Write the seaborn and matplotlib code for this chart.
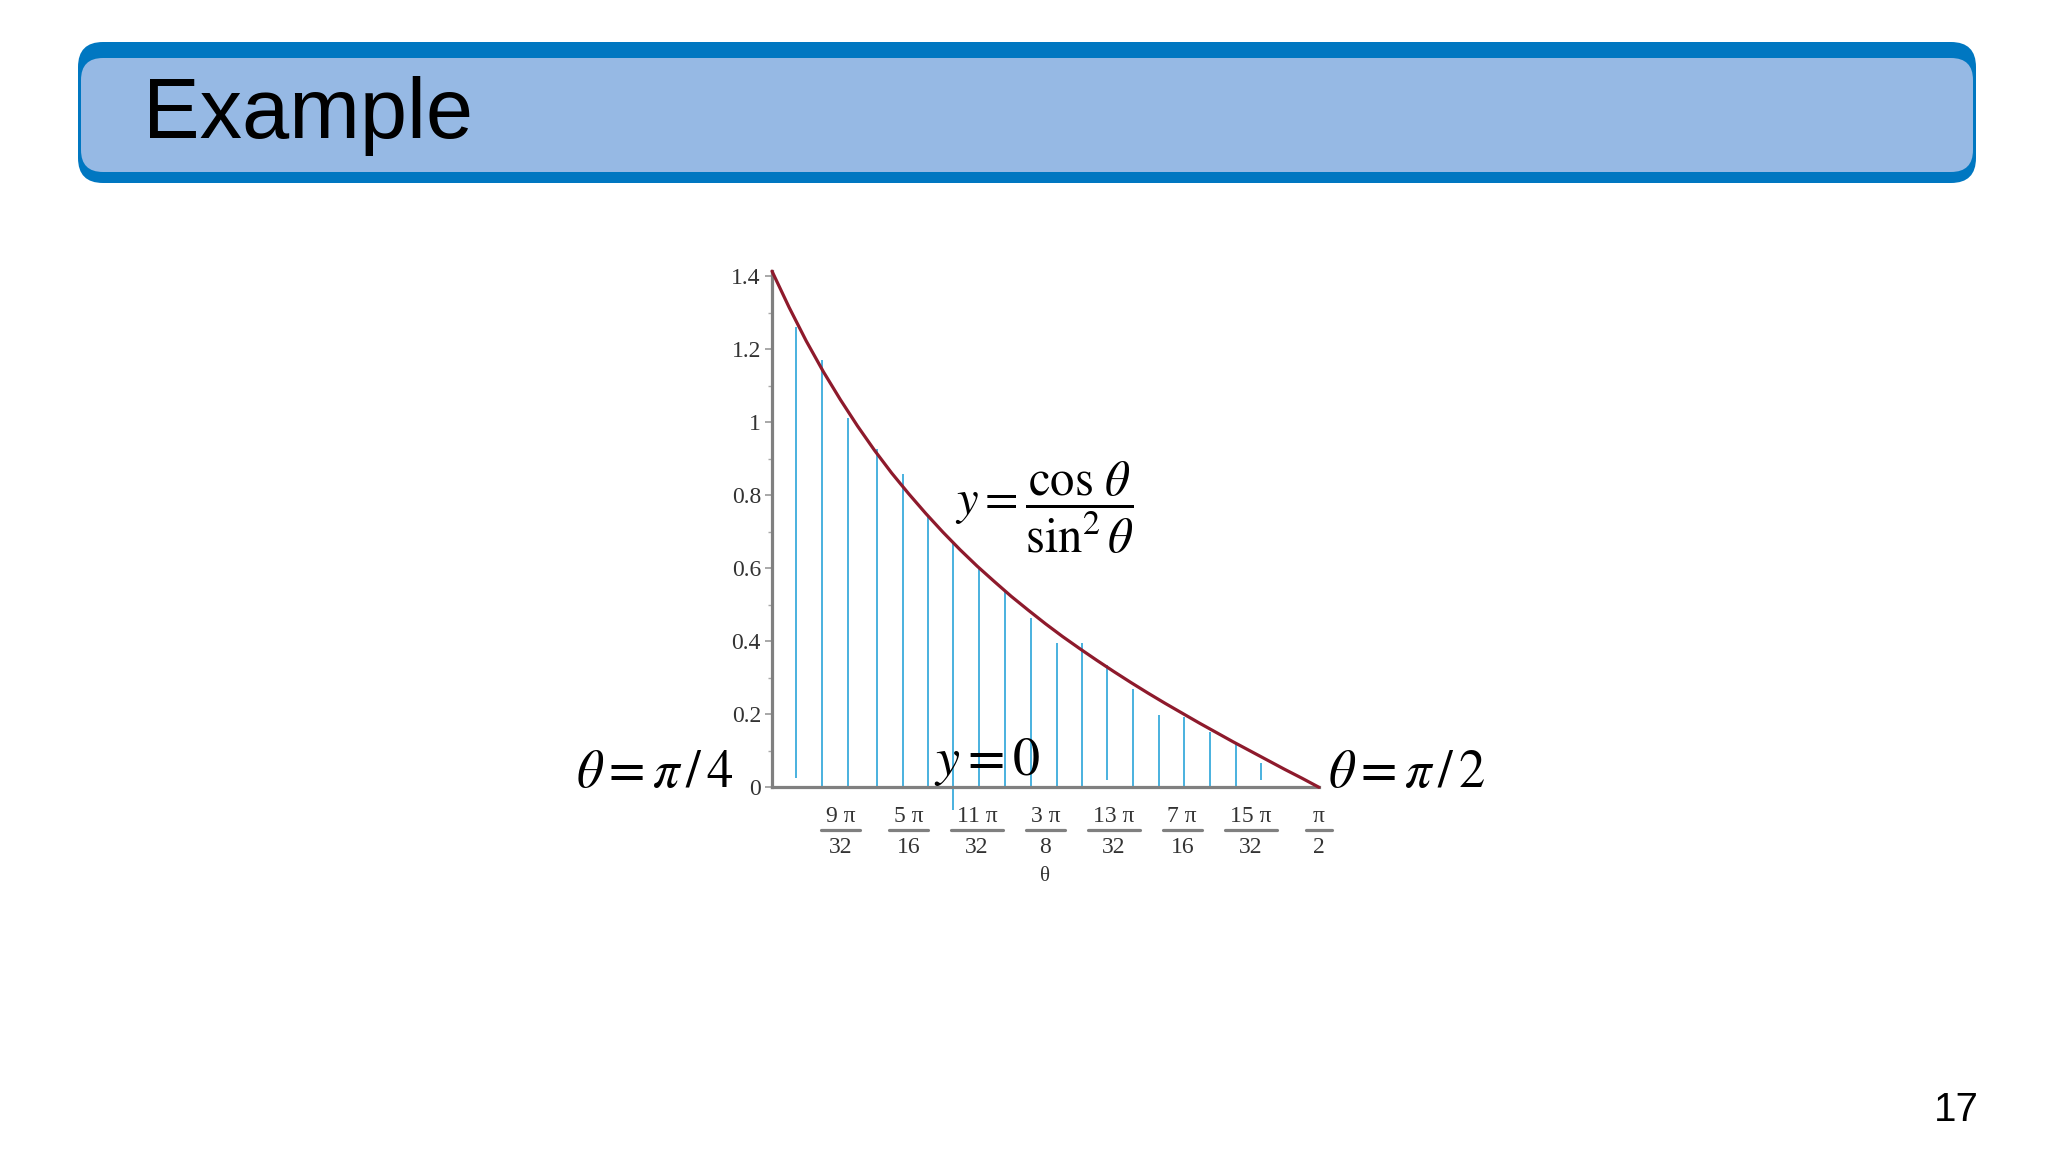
import numpy as np
import matplotlib
matplotlib.use("Agg")
import matplotlib.pyplot as plt
from matplotlib.patches import FancyBboxPatch
import seaborn as sns

# curve y = cos(theta) / sin^2(theta), read every pi/128 from pi/4 to pi/2
curve_theta = np.linspace(np.pi / 4, np.pi / 2, 33)
curve_y = [1.414, 1.315, 1.223, 1.139, 1.062, 0.990, 0.923, 0.861, 0.804,
           0.750, 0.699, 0.651, 0.606, 0.564, 0.523, 0.485, 0.448, 0.413,
           0.380, 0.348, 0.317, 0.287, 0.258, 0.230, 0.203, 0.176, 0.150,
           0.124, 0.099, 0.074, 0.049, 0.025, 0.000]

# blue vertical slices (theta, top, bottom)
slice_theta = [0.820, 0.857, 0.894, 0.936, 0.973, 1.010, 1.046, 1.083, 1.120,
               1.157, 1.194, 1.231, 1.267, 1.304, 1.341, 1.377, 1.414, 1.451,
               1.488]
slice_top = [1.261, 1.172, 1.012, 0.928, 0.858, 0.742, 0.673, 0.602, 0.535,
             0.465, 0.395, 0.394, 0.336, 0.268, 0.199, 0.193, 0.152, 0.119,
             0.067]
slice_bottom = [0.025, 0, 0, 0, 0, 0, -0.062, 0, 0, 0, 0, 0, 0.02, 0, 0, 0,
                0, 0, 0.02]

# x ticks in multiples of pi/32
xtick_k = [8, 9, 10, 11, 12, 13, 14, 15, 16]
xtick_num = ["", "9 π", "5 π", "11 π", "3 π", "13 π", "7 π", "15 π", "π"]
xtick_den = ["", "32", "16", "32", "8", "32", "16", "32", "2"]
ytick_vals = [0, 0.2, 0.4, 0.6, 0.8, 1.0, 1.2, 1.4]
ytick_labels = ["0", "0.2", "0.4", "0.6", "0.8", "1", "1.2", "1.4"]

sns.set_style("white")
plt.rcParams["font.family"] = ["Liberation Sans", "DejaVu Sans"]
plt.rcParams["mathtext.fontset"] = "stix"

fig = plt.figure(figsize=(20.48, 11.52), dpi=100)

# title bar
fig.patches.append(FancyBboxPatch((0.78, 9.69), 18.98, 1.41,
                                  boxstyle="round,pad=0,rounding_size=0.25",
                                  transform=fig.dpi_scale_trans,
                                  facecolor="#0077C1", edgecolor="none"))
fig.patches.append(FancyBboxPatch((0.81, 9.80), 18.92, 1.14,
                                  boxstyle="round,pad=0,rounding_size=0.22",
                                  transform=fig.dpi_scale_trans,
                                  facecolor="#96B9E4", edgecolor="none"))
fig.text(0.0698, 0.880, "Example", fontsize=61, color="black",
         family="Liberation Sans", va="baseline", ha="left")
fig.text(0.9663, 0.027, "17", fontsize=29, color="black",
         family="Liberation Sans", va="baseline", ha="right")

ax = fig.add_axes([0.37695, 0.31658, 0.26709, 0.44803])

ax.vlines(slice_theta, slice_bottom, slice_top, color="#3AABDC",
          linewidth=1.3, clip_on=False, zorder=2)
sns.lineplot(x=curve_theta, y=curve_y, ax=ax, color="#8E1A2C",
             linewidth=2.3, zorder=3, clip_on=False)

ax.set_xlim(np.pi / 4, np.pi / 2)
ax.set_ylim(0, 1.414)

for side in ["top", "right"]:
    ax.spines[side].set_visible(False)
for side in ["left", "bottom"]:
    ax.spines[side].set_color("#808080")
    ax.spines[side].set_linewidth(2.3)

xticks = [np.pi * k / 32 for k in xtick_k]
ax.set_xticks(xticks)
ax.set_xticklabels([])
ax.set_yticks(ytick_vals)
ax.set_yticklabels(ytick_labels, family="Liberation Serif")
ax.set_yticks([0.1, 0.3, 0.5, 0.7, 0.9, 1.1, 1.3], minor=True)
ax.tick_params(axis="x", which="major", direction="out", length=5,
               width=1.2, color="#aaaaaa")
ax.tick_params(axis="y", which="major", direction="out", length=5,
               width=1.2, color="#999999", labelsize=17, labelcolor="#333333",
               pad=3, left=True)
ax.tick_params(axis="y", which="minor", direction="out", length=3,
               width=1.0, color="#aaaaaa", left=True)

# fraction tick labels
xtr = ax.get_xaxis_transform()
for x, num, den in zip(xticks, xtick_num, xtick_den):
    if not num:
        continue
    ax.text(x, -0.057, num, transform=xtr, ha="center", va="center",
            fontsize=17, family="Liberation Serif", color="#333333")
    ax.text(x, -0.1167, den, transform=xtr, ha="center", va="center",
            fontsize=17, family="Liberation Serif", color="#333333")
    hw = 0.0093 * (len(num.replace(" ", "")) + 1)
    ax.plot([x - hw, x + hw], [-0.0837, -0.0837], transform=xtr,
            color="#808080", linewidth=2.3, clip_on=False)
ax.text(3 * np.pi / 8, -0.173, "θ", transform=xtr, ha="center", va="center",
        fontsize=15, family="Liberation Serif", color="#333333")

# annotations
ax.text(0.7308, 0, r"$\theta = \pi\,/\,4$", fontsize=38, ha="right",
        va="baseline", color="black")
ax.text(1.5837, 0, r"$\theta = \pi\,/\,2$", fontsize=38, ha="left",
        va="baseline", color="black")
ax.text(1.018, 0.034, r"$y = 0$", fontsize=39, ha="left",
        va="baseline", color="black")
ax.text(1.048, 0.765, r"$y = \dfrac{\cos\,\theta}{\sin^2\theta}$",
        fontsize=35, ha="left", va="center", color="black")

fig.savefig("out.png", dpi=100)
